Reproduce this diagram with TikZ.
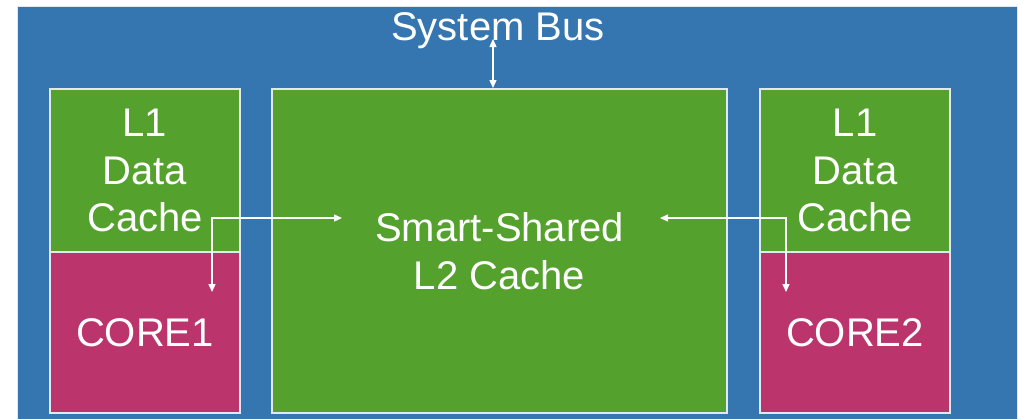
\documentclass[tikz,border=0pt]{standalone}
\usepackage{fontspec}
\setmainfont{Liberation Sans}
\usetikzlibrary{arrows.meta}

\definecolor{busblue}{RGB}{53,117,176}
\definecolor{cachegreen}{RGB}{84,161,45}
\definecolor{coremagenta}{RGB}{187,53,108}
\definecolor{edgewhite}{RGB}{225,232,238}

\tikzset{
  unit/.style={draw=edgewhite, line width=1.4pt, text=white, align=center,
    inner sep=0pt, font=\fontsize{40}{47.5}\selectfont},
  l1box/.style={unit, fill=cachegreen, minimum width=190pt, minimum height=163pt},
  corebox/.style={unit, fill=coremagenta, minimum width=190pt, minimum height=161pt},
  l2box/.style={unit, fill=cachegreen, minimum width=455pt, minimum height=324pt},
  link/.style={draw=white, line width=1.3pt,
    {Triangle[length=8pt,width=7pt]}-{Triangle[length=8pt,width=7pt]}}
}

\begin{document}
\begin{tikzpicture}[x=1pt, y=-1pt]
  \useasboundingbox (0,0) rectangle (1018,418);
  \fill[white] (0,0) rectangle (1018,418);

  % backplane
  \begin{scope}
    \clip (0,0) rectangle (1018,418);
    \draw[fill=busblue, draw=edgewhite, line width=1pt] (17,6) rectangle (1017,430);
  \end{scope}

  \node[text=white, font=\fontsize{40}{47.5}\selectfont, inner sep=0pt, anchor=base] (bus) at (498,40) {System Bus};

  % first core and its data cache
  \node[l1box] (l1a) at (145,170.5) {L1\\Data\\Cache};
  \node[corebox] (core1) at (145,332.5) {CORE1};

  % shared second-level cache
  \node[l2box] (l2) at (499.5,251) {Smart-Shared\\L2 Cache};

  % second core and its data cache
  \node[l1box] (l1b) at (855,170.5) {L1\\Data\\Cache};
  \node[corebox] (core2) at (855,332.5) {CORE2};

  % link end points
  \coordinate (busport) at (493,39);
  \coordinate (l2top) at (493,88);
  \coordinate (c1port) at (212,292);
  \coordinate (c1bend) at (212,218);
  \coordinate (l2left) at (342,218);
  \coordinate (c2port) at (786,292);
  \coordinate (c2bend) at (786,218);
  \coordinate (l2right) at (660,218);

  \draw[link] (busport) -- (l2top);
  \draw[link] (c1port) -- (c1bend) -- (l2left);
  \draw[link] (l2right) -- (c2bend) -- (c2port);
\end{tikzpicture}
\end{document}
